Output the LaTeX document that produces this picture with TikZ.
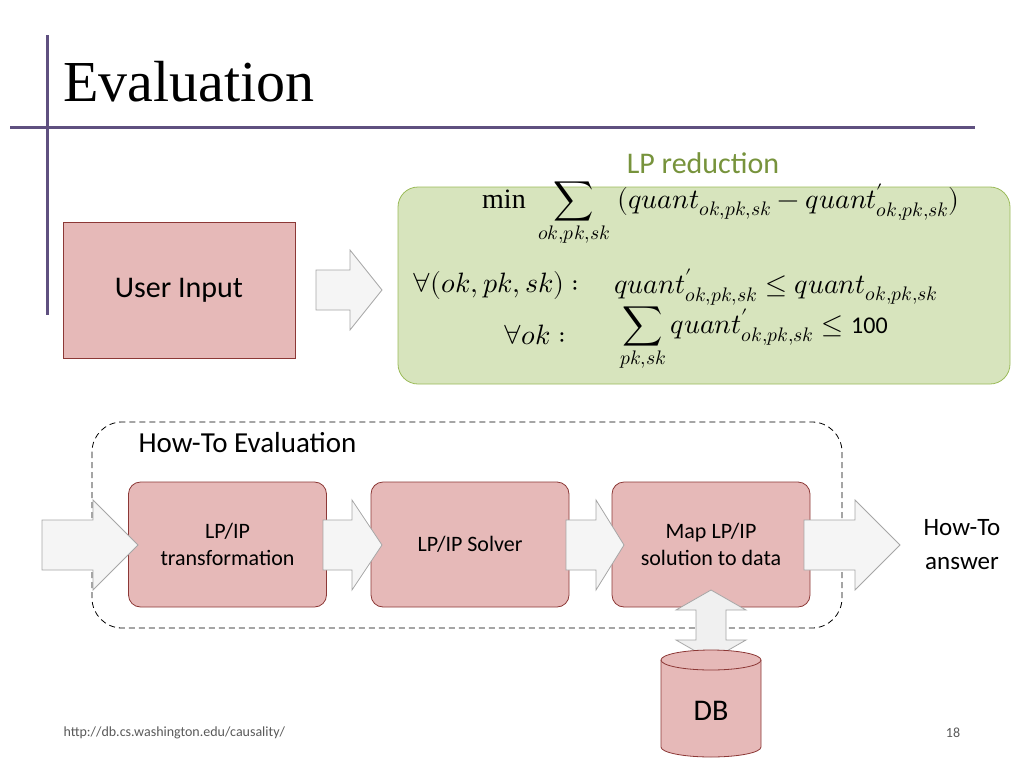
\documentclass[tikz,border=0pt]{standalone}
\usepackage{fontspec}
\setmainfont{Liberation Serif}
\newfontfamily\calfont{Carlito}
\usepackage{unicode-math}
\setmathfont{Latin Modern Math}
\usetikzlibrary{positioning,shapes.geometric}
\definecolor{pinkfill}{HTML}{E6B9B8}
\definecolor{pinkdraw}{HTML}{8C3836}
\definecolor{greenfill}{HTML}{D7E4BD}
\definecolor{greendraw}{HTML}{9BBB59}
\definecolor{lpgreen}{HTML}{77933C}
\definecolor{barpurple}{HTML}{5F5080}
\tikzset{
  stepbox/.style={draw=pinkdraw, thick, fill=pinkfill, rounded corners=12pt, minimum width=198pt, minimum height=125pt, align=center, font=\calfont\fontsize{22}{27}\selectfont},
  barrow/.style={draw=gray!70, thick, fill=gray!8},
  mathrow/.style={anchor=west, inner sep=0pt, font=\fontsize{28}{32}\selectfont}
}
\begin{document}
\begin{tikzpicture}[x=1pt,y=-1pt]
\useasboundingbox (0,0) rectangle (1024,768);
    \fill[barpurple] (46,35) rectangle (49,315);
    \fill[barpurple] (10,126) rectangle (975,129);

\node[anchor=base west, inner sep=0pt, font=\fontsize{58}{66}\selectfont] (title) at (63,101) {Evaluation};

% user input and LP reduction
\node[draw=pinkdraw, thick, fill=pinkfill, minimum width=232pt, minimum height=136pt, font=\calfont\fontsize{30}{36}\selectfont] (user) at (179,290) {User Input};
\node[draw=greendraw, thick, fill=greenfill, rounded corners=20pt, minimum width=612pt, minimum height=197pt] (lp) at (704,285.5) {};
\node[font=\calfont\fontsize{30}{36}\selectfont, text=lpgreen] (lptitle) at (703,163) {LP reduction};
\draw[barrow] (316,270) -- (350,270) -- (350,250) -- (382,290) -- (350,330) -- (350,310) -- (316,310) -- cycle;

\node[mathrow] (r1) at (482,214) {$\displaystyle \min\;\sum_{ok,pk,sk}\;(quant_{ok,pk,sk}-quant'_{ok,pk,sk})$};
\node[mathrow] (r2a) at (412,285) {$\forall(ok,pk,sk):$};
\node[mathrow] (r2b) at (614,287) {$quant'_{ok,pk,sk}\leq quant_{ok,pk,sk}$};
\node[mathrow] (r3a) at (503,335) {$\forall ok:$};
\node[mathrow] (r3b) at (620,339) {$\displaystyle \sum_{pk,sk} quant'_{ok,pk,sk}\leq{}${\calfont\fontsize{24}{28}\selectfont 100}};

% how-to evaluation
\draw[thick, dash pattern=on 6pt off 4pt, rounded corners=30pt] (92,422) rectangle (842,628);
\node[anchor=west, font=\calfont\fontsize{29}{34}\selectfont] (howto) at (135,443) {How-To Evaluation};
\node[stepbox] (trans) at (227.5,544.5) {LP/IP\\transformation};
\node[stepbox] (solver) at (470,544.5) {LP/IP Solver};
\node[stepbox] (map) at (711,544.5) {Map LP/IP\\solution to data};
\node[align=center, font=\calfont\fontsize{25}{34}\selectfont] (answer) at (962,545) {How-To\\answer};

\foreach \xa/\xb/\xc in {42/93/138, 323/352/382, 566/596/624, 804/855/900}
  \draw[barrow] (\xa,520) -- (\xb,520) -- (\xb,500) -- (\xc,545) -- (\xb,590) -- (\xb,570) -- (\xa,570) -- cycle;

% database
\draw[barrow, fill=gray!12] (711,590) -- (746,610) -- (726,610) -- (726,640) -- (746,640) -- (711,660) -- (676,640) -- (696,640) -- (696,610) -- (676,610) -- cycle;
\draw[draw=pinkdraw, thick, fill=pinkfill] (661,660) -- (661,747) arc[start angle=180, end angle=0, x radius=50, y radius=10] -- (761,660);
\draw[draw=pinkdraw, thick, fill=pinkfill] (711,660) ellipse[x radius=50, y radius=10];
\node[font=\calfont\fontsize{30}{36}\selectfont] (db) at (711,711) {DB};

\node[anchor=west, text=gray!70!black, font=\calfont\fontsize{14}{17}\selectfont] (url) at (60,733) {http://db.cs.washington.edu/causality/};
\node[text=gray!70!black, font=\calfont\fontsize{14}{17}\selectfont] (page) at (953,733) {18};
\end{tikzpicture}
\end{document}
